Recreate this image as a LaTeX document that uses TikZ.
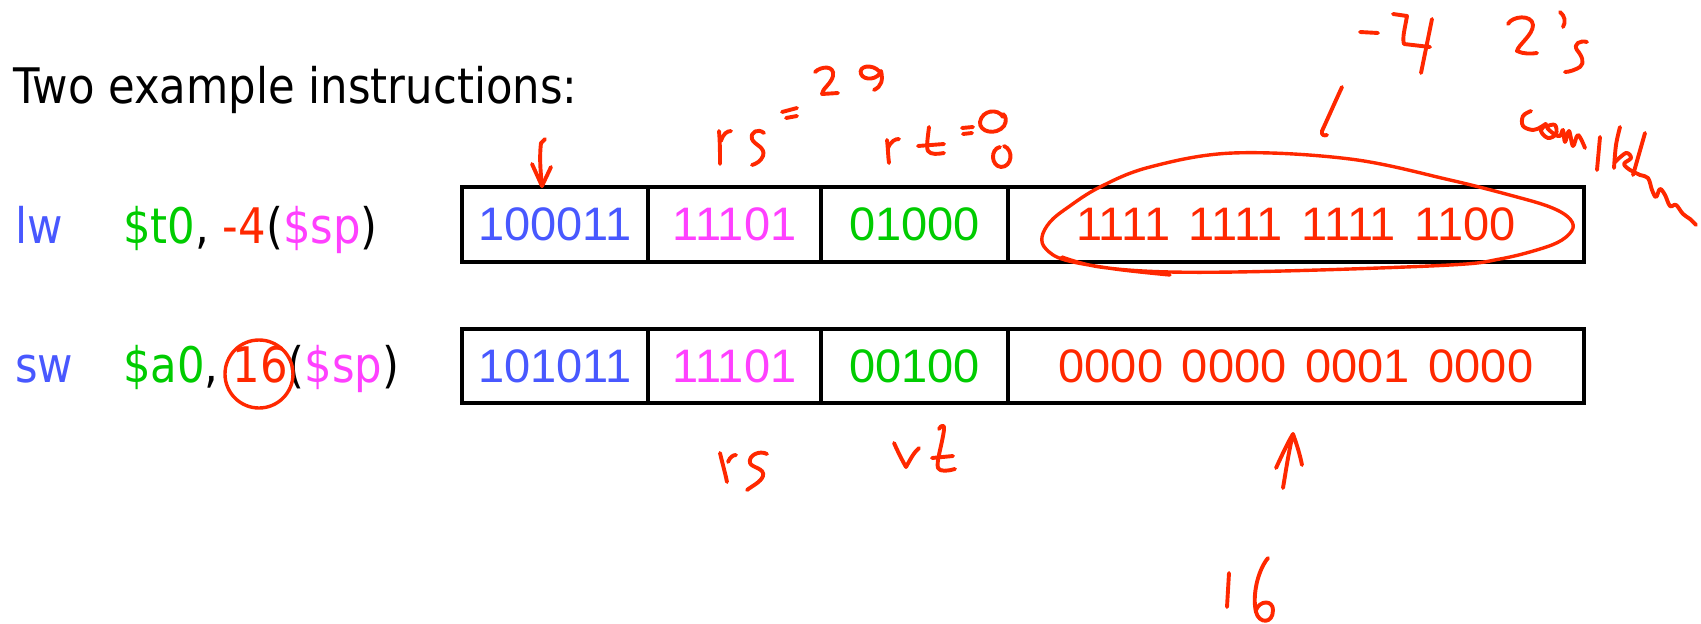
\documentclass[tikz,border=0pt]{standalone}
\usepackage{fontspec}
\setmainfont{Liberation Sans}
\newfontfamily\tahoma{DejaVu Sans}[FakeStretch=0.885]
\definecolor{iblue}{RGB}{72,88,255}
\definecolor{imag}{RGB}{255,64,255}
\definecolor{igreen}{RGB}{0,204,0}
\definecolor{ired}{RGB}{255,40,0}
\newcommand{\fsp}{\hspace{0.4em}}
\begin{document}
\begin{tikzpicture}[x=1pt,y=-1pt,
  lbl/.style={inner sep=0pt, anchor=base west, font=\tahoma\fontsize{49}{58}\selectfont},
  field/.style={draw=black, line width=3.4pt, inner sep=0pt, font=\fontsize{47}{50}\selectfont},
  rowa/.style={minimum height=75pt},
  rowb/.style={minimum height=74pt},
  hw/.style={draw=ired, line width=3.9pt, line cap=round, line join=round}]
\useasboundingbox[fill=white] (0,0) rectangle (1701,624);

% title and instructions
\node[lbl] (title) at (13,103) {Two example instructions:};
\node[lbl, text=iblue] (lw) at (15,243) {lw};
\node[lbl] (lwops) at (123,243) {\textcolor{igreen}{\$t0}, \textcolor{ired}{-4}(\textcolor{imag}{\$sp})};
\node[lbl, text=iblue] (sw) at (15,382) {sw};
\node[lbl] (swops) at (123,382) {\textcolor{igreen}{\$a0}, \textcolor{ired}{16}(\textcolor{imag}{\$sp})};

% instruction fields
\node[field, rowa, minimum width=186pt, text=iblue]  (op1) at (555,224.5)  {100011};
\node[field, rowa, minimum width=173pt, text=imag]   (rs1) at (734.5,224.5) {11101};
\node[field, rowa, minimum width=187pt, text=igreen] (rt1) at (914.5,224.5) {01000};
\node[field, rowa, minimum width=576pt, text=ired]   (im1) at (1296,224.5) {1111\fsp 1111\fsp 1111\fsp 1100};
\node[field, rowb, minimum width=186pt, text=iblue]  (op2) at (555,366)  {101011};
\node[field, rowb, minimum width=173pt, text=imag]   (rs2) at (734.5,366) {11101};
\node[field, rowb, minimum width=187pt, text=igreen] (rt2) at (914.5,366) {00100};
\node[field, rowb, minimum width=576pt, text=ired]   (im2) at (1296,366) {0000\fsp 0000\fsp 0001\fsp 0000};

% ---- handwritten annotations ----
% arrow into opcode field
\coordinate (a1s) at (541,143);
\coordinate (a1t) at (542,186);
\draw[hw] (545,139) -- (a1s) .. controls (539,160) and (541,175) .. (a1t);
\draw[hw] (532,164) -- (a1t) -- (551,167);

% rs = 29
\draw[hw] (719,131) .. controls (720,142) and (720,154) .. (720,164);
\draw[hw] (721,141) .. controls (723,134) and (727,131) .. (731,131);
\draw[hw] (764,133) .. controls (758,128) and (750,132) .. (752,139) .. controls (754,145) and (766,147) .. (763,156) .. controls (761,161) and (756,164) .. (752,165);
\draw[hw] (782,112) -- (797,108);
\draw[hw] (786,118) -- (797,116);
\draw[hw] (815,72) .. controls (821,66) and (835,65) .. (833,76) .. controls (831,84) and (822,89) .. (822,94) -- (838,93);
\draw[hw] (880,72) .. controls (872,63) and (858,66) .. (861,74) .. controls (864,81) and (878,80) .. (881,71) .. controls (883,80) and (882,86) .. (874,90);

% rt = 8
\draw[hw] (887,140) .. controls (888,148) and (888,156) .. (889,163);
\draw[hw] (888,148) .. controls (891,141) and (895,139) .. (899,139);
\draw[hw] (929,127) .. controls (928,136) and (926,147) .. (928,151) .. controls (931,155) and (938,154) .. (944,153);
\draw[hw] (918,146) -- (944,144);
\draw[hw] (962,128) -- (973,127);
\draw[hw] (963,134) -- (972,133);
\draw[hw] (1003,117) .. controls (998,108) and (982,110) .. (980,122) .. controls (979,132) and (996,136) .. (1004,126) .. controls (1007,121) and (1006,116) .. (1003,114);
\draw[hw] (1000,147) .. controls (990,149) and (991,166) .. (1001,167) .. controls (1012,167) and (1014,150) .. (1004,146);

% ellipse round the immediate of lw
\draw[hw, line width=3.4pt] plot[smooth, tension=0.6] coordinates {(1170,275) (1115,269) (1065,260) (1046,249) (1042,237) (1050,222) (1067,208) (1100,187) (1150,167) (1233,153) (1350,159) (1450,180) (1517,197) (1550,207) (1568,217) (1573,228) (1562,240) (1540,249) (1500,259) (1450,265) (1283,271) (1170,272) (1100,267) (1062,257)};

% -4 and the stroke
\draw[hw] (1342,87) .. controls (1335,102) and (1328,118) .. (1322,131) .. controls (1321,135) and (1324,136) .. (1327,135);
\draw[hw] (1360,32) -- (1378,33);
\draw[hw] (1393,14) -- (1407,16) .. controls (1405,28) and (1402,38) .. (1404,44) -- (1430,47);
\draw[hw] (1432,19) -- (1421,73);

% 2's complement
\draw[hw] (1508,24) .. controls (1512,16) and (1532,14) .. (1533,25) .. controls (1533,35) and (1518,45) .. (1517,51) .. controls (1523,54) and (1531,54) .. (1537,53);
\draw[hw] (1560,12) .. controls (1565,16) and (1566,22) .. (1563,27);
\draw[hw] (1587,42) .. controls (1580,40) and (1573,44) .. (1577,50) .. controls (1582,56) and (1585,63) .. (1580,67) .. controls (1575,70) and (1569,72) .. (1565,72);
\draw[hw] plot[smooth, tension=0.6] coordinates {(1531,111) (1523,116) (1523,126) (1533,130) (1541,127) (1546,124) (1541,131) (1548,138) (1556,134) (1555,125) (1547,127) (1554,134) (1560,136) (1563,130) (1565,142) (1569,131) (1573,146) (1578,135) (1585,148)};
\draw[hw] (1600,137) -- (1597,170);
\draw[hw] plot[smooth, tension=0.6] coordinates {(1620,127) (1616,145) (1614,168)};
\draw[hw] plot[smooth, tension=0.6] coordinates {(1615,162) (1626,153) (1631,158) (1624,164) (1630,170)};
\draw[hw] (1645,133) -- (1633,175);
\draw[hw] plot[smooth, tension=0.6] coordinates {(1630,170) (1640,175) (1648,178) (1652,190) (1656,197) (1660,189) (1665,195) (1670,206) (1676,205) (1683,214) (1690,219) (1696,225)};

% circle round 16
\draw[hw, line width=3.4pt] (259,374) circle[radius=34pt];

% rs, rt below
\draw[hw] (720,453) .. controls (722,462) and (725,472) .. (727,482);
\draw[hw] (728,462) .. controls (730,457) and (733,455) .. (736,455);
\draw[hw] (767,454) .. controls (760,450) and (748,455) .. (750,463) .. controls (752,468) and (765,468) .. (763,476) .. controls (761,482) and (752,486) .. (747,490);
\draw[hw] (894,443) .. controls (898,452) and (902,460) .. (906,467) .. controls (910,460) and (914,452) .. (919,448);
\draw[hw] (939,429) .. controls (941,425) and (945,424) .. (944,430) .. controls (942,445) and (936,462) .. (938,468) .. controls (940,472) and (948,471) .. (955,469);
\draw[hw] (932,458) -- (953,456);

% arrow up to the immediate of sw, and 16
\coordinate (a2s) at (1283,488);
\coordinate (a2t) at (1293,434);
\draw[hw] (a2s) .. controls (1286,470) and (1289,450) .. (a2t) .. controls (1297,445) and (1300,455) .. (1302,465);
\draw[hw] (1276,468) .. controls (1282,455) and (1288,442) .. (a2t);
\draw[hw] (1229,573) -- (1227,607);
\draw[hw] (1268,558) .. controls (1258,570) and (1252,595) .. (1256,612) .. controls (1259,624) and (1273,624) .. (1273,610) .. controls (1273,600) and (1260,600) .. (1256,610);
\end{tikzpicture}
\end{document}
